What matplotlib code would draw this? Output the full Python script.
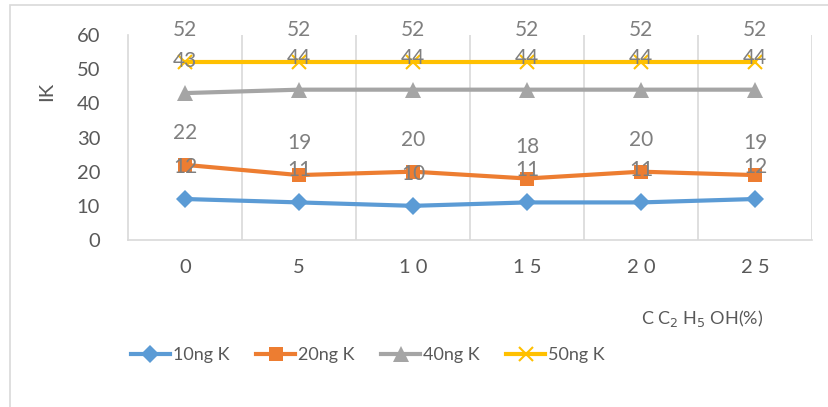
import matplotlib.pyplot as plt
from matplotlib.patches import Rectangle

plt.rcParams["font.family"] = ["Lato", "DejaVu Sans"]

# ethanol concentration (%) on the x axis
ethanol = ["0", "5", "1 0", "1 5", "2 0", "2 5"]

ik_10ng = [12, 11, 10, 11, 11, 12]
ik_20ng = [22, 19, 20, 18, 20, 19]
ik_40ng = [43, 44, 44, 44, 44, 44]
ik_50ng = [52, 52, 52, 52, 52, 52]

series = [
    ("10ng K", ik_10ng, "#5b9bd5", "D", 9),
    ("20ng K", ik_20ng, "#ed7d31", "s", 10),
    ("40ng K", ik_40ng, "#a5a5a5", "^", 11),
    ("50ng K", ik_50ng, "#ffc000", "x", 10),
]

text_color = "#595959"
label_color = "#7f7f7f"
grid_color = "#d9d9d9"

fig = plt.figure(figsize=(8.29, 4.07), dpi=100)
fig.patches.append(Rectangle((0.012, -0.01), 0.99, 0.998, transform=fig.transFigure,
                             fill=False, edgecolor=grid_color, linewidth=1.2))

ax = fig.add_axes([0.1544, 0.4103, 0.8251, 0.5037])
x = list(range(len(ethanol)))

for name, vals, color, marker, ms in series:
    ax.plot(x, vals, color=color, linewidth=3, marker=marker, markersize=ms,
            markeredgewidth=1.5 if marker == "x" else 0, markeredgecolor=color,
            label=name)
    for xi, v in zip(x, vals):
        ax.annotate(str(v), (xi, v), xytext=(0, 23), textcoords="offset points",
                    ha="center", va="center", fontsize=15, color=label_color)

ax.set_xlim(-0.5, len(ethanol) - 0.5)
ax.set_ylim(0, 60)
ax.set_yticks(range(0, 61, 10))
ax.set_xticks(x)
ax.set_xticklabels(ethanol)

# vertical category gridlines between the points
for b in [i + 0.5 for i in x]:
    ax.axvline(b, color=grid_color, linewidth=1.2, zorder=0)

for side in ["top", "right"]:
    ax.spines[side].set_visible(False)
ax.spines["left"].set_color(grid_color)
ax.spines["bottom"].set_color(grid_color)
ax.spines["left"].set_linewidth(1.2)
ax.spines["bottom"].set_linewidth(1.2)
ax.tick_params(axis="both", length=0, labelsize=14.5, labelcolor=text_color)
ax.tick_params(axis="y", pad=20)
ax.tick_params(axis="x", pad=14)

fig.text(0.056, 0.775, "IK", rotation=90, fontsize=14.5, color=text_color,
         ha="center", va="center")
fig.text(0.773, 0.218, r"C C$_2$ H$_5$ OH(%)", fontsize=13, color=text_color,
         ha="left", va="center")

fig.legend(loc="center left", bbox_to_anchor=(0.158, 0.128), ncol=4, frameon=False,
           fontsize=13, labelcolor=text_color, handlelength=2.15, handletextpad=0.15,
           columnspacing=1.5, borderaxespad=0, borderpad=0)

fig.savefig("out.png", dpi=100)
